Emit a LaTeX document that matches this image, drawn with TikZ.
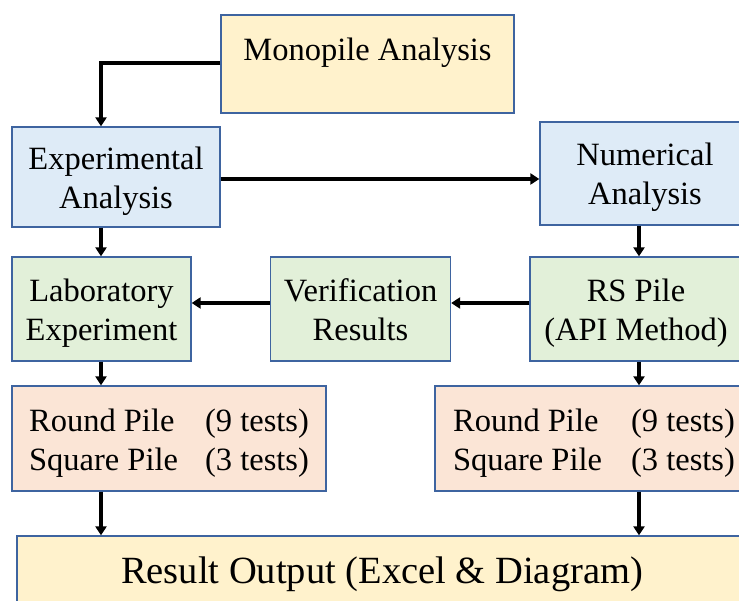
\documentclass[tikz,border=0pt]{standalone}
\usepackage{fontspec}
\setmainfont{Liberation Serif}
\usetikzlibrary{arrows.meta}
\definecolor{cyel}{HTML}{FFF2CC}
\definecolor{cblu}{HTML}{DEEBF7}
\definecolor{cgrn}{HTML}{E2F0D9}
\definecolor{cpch}{HTML}{FBE5D6}
\definecolor{cbrd}{HTML}{3E64A0}
\newcommand{\tstr}[1]{\rule{0pt}{#1}}
\newcommand{\bstr}[1]{\rule[-#1]{0pt}{#1}}
\tikzset{
  boxbase/.style={draw=cbrd, line width=1.3pt, inner sep=0pt, align=center,
    font=\fontsize{32.5}{39}\selectfont},
  ybox/.style={boxbase, fill=cyel},
  bbox/.style={boxbase, fill=cblu},
  gbox/.style={boxbase, fill=cgrn},
  pbox/.style={boxbase, fill=cpch, align=left},
  arr/.style={line width=3.2pt, -{Triangle[length=9pt,width=11pt]}},
}
\begin{document}
\begin{tikzpicture}[x=1pt,y=-1pt]
\clip (0,0) rectangle (739,601);
\fill[white] (0,0) rectangle (739,601);
\node[ybox, minimum width=293pt, minimum height=98pt] (mono) at (367.5,64)
  {\tstr{31pt}Monopile Analysis\bstr{37pt}};
\node[bbox, minimum width=208pt, minimum height=100pt] (exp) at (116,177)
  {\tstr{32pt}Experimental\\Analysis\bstr{6pt}};
\node[bbox, minimum width=210pt, minimum height=103pt] (num) at (645,173.5)
  {\tstr{31pt}Numerical\\Analysis\bstr{7pt}};
\node[gbox, minimum width=179pt, minimum height=104pt] (lab) at (101.5,309)
  {\tstr{31pt}Laboratory\\Experiment\bstr{7pt}};
\node[gbox, minimum width=180pt, minimum height=104pt] (ver) at (360.5,309)
  {\tstr{31pt}Verification\\Results\bstr{7pt}};
\node[gbox, minimum width=212pt, minimum height=104pt] (rs) at (636,309)
  {\tstr{31pt}RS Pile\\(API Method)\bstr{7pt}};
\node[pbox, minimum width=314pt, minimum height=105pt] (lrs) at (169,438.5)
  {\tstr{31pt}\makebox[176pt][l]{Round Pile}(9 tests)\\\makebox[176pt][l]{Square Pile}(3 tests)\bstr{7pt}};
\node[pbox, minimum width=318pt, minimum height=105pt] (rrs) at (594,438.5)
  {\tstr{31pt}\makebox[178pt][l]{Round Pile}(9 tests)\\\makebox[178pt][l]{Square Pile}(3 tests)\bstr{7pt}};
\node[ybox, minimum width=730pt, minimum height=90pt, font=\fontsize{38.5}{46}\selectfont] (res) at (382,581)
  {\tstr{36pt}Result Output (Excel \& Diagram)\bstr{32pt}};
\coordinate (lc) at (101,0);
\coordinate (rc) at (639,0);
\coordinate (vy) at (0,303);
\draw[arr] (mono.west |- 0,63) -| (lc |- exp.north);
\draw[arr] (exp.east |- 0,179) -- (num.west |- 0,179);
\draw[arr] (lc |- exp.south) -- (lc |- lab.north);
\draw[arr] (rc |- num.south) -- (rc |- rs.north);
\draw[arr] (rs.west |- vy) -- (ver.east |- vy);
\draw[arr] (ver.west |- vy) -- (lab.east |- vy);
\draw[arr] (lc |- lab.south) -- (lc |- lrs.north);
\draw[arr] (rc |- rs.south) -- (rc |- rrs.north);
\draw[arr] (lc |- lrs.south) -- (lc |- res.north);
\draw[arr] (rc |- rrs.south) -- (rc |- res.north);
\end{tikzpicture}
\end{document}
